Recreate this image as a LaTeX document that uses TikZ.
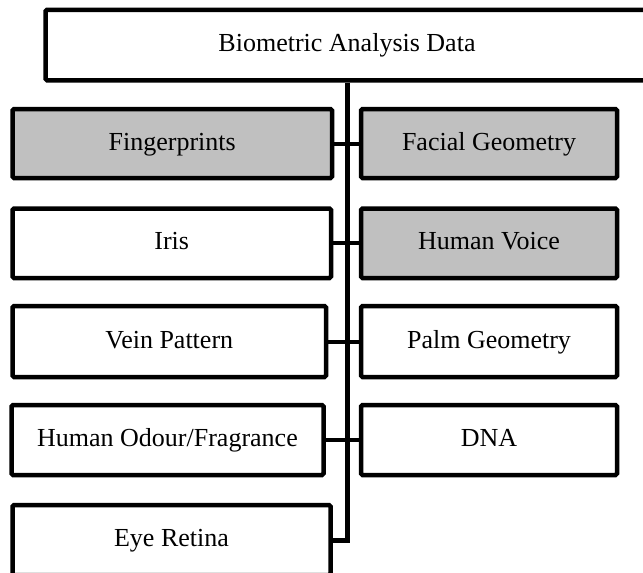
\documentclass[tikz,border=0pt]{standalone}
\usepackage{fontspec}
\setmainfont{Liberation Serif}
\definecolor{boxgray}{RGB}{192,192,192}

\begin{document}
\begin{tikzpicture}[x=1pt, y=-1pt,
    every node/.style = {align=center, font=\fontsize{26}{30}\selectfont},
    item/.style = {draw, line width=4.5pt, rounded corners=1.5pt, inner sep=0pt,
                   text height=18pt, text depth=5pt, minimum height=70pt, fill=white},
    marked/.style = {item, fill=boxgray},
    link/.style = {line width=4pt}]
  \clip (0,0) rectangle (643,573);
  \node[item, minimum width=603pt, minimum height=70.5pt] (root) at (347,45) {Biometric Analysis Data};
  % left column
  \node[marked, minimum width=319.5pt, minimum height=69pt] (fingerprints) at (172.25,143.5) {Fingerprints};
  \node[item, minimum width=318.5pt, minimum height=69.5pt] (iris) at (171.75,243.25) {Iris};
  \node[item, minimum width=313.5pt, minimum height=71pt] (vein) at (169.25,341.5) {Vein Pattern};
  \node[item, minimum width=312pt] (odour) at (167.5,440) {Human Odour/Fragrance};
  \node[item, minimum width=318pt] (retina) at (171.5,540) {Eye Retina};
  % right column
  \node[marked, minimum width=256pt, minimum height=69pt] (facial) at (489,143.5) {Facial Geometry};
  \node[marked, minimum width=256pt, minimum height=69.5pt] (voice) at (489,243.25) {Human Voice};
  \node[item, minimum width=256pt, minimum height=71pt] (palm) at (489,341.5) {Palm Geometry};
  \node[item, minimum width=256pt] (dna) at (489,440) {DNA};
  % connectors
  \draw[link, line width=5pt] (root.south) |- (retina.east);
  \draw[link] (fingerprints.east) -- (facial.west);
  \draw[link] (iris.east) -- (voice.west);
  \draw[link] (vein.east) -- (palm.west);
  \draw[link] (odour.east) -- (dna.west);
\end{tikzpicture}
\end{document}
